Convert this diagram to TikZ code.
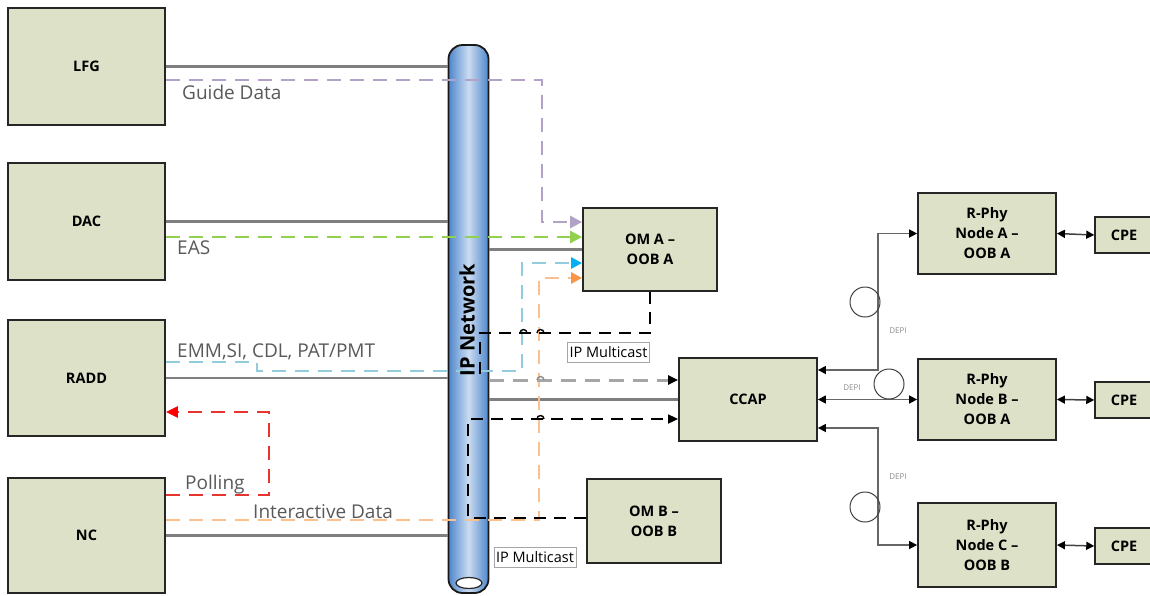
\documentclass[tikz,border=0pt]{standalone}
\usepackage{fontspec}
\setmainfont{Open Sans}
\usetikzlibrary{arrows.meta,calc}
\definecolor{boxfill}{HTML}{DDE1C8}
\definecolor{guidec}{HTML}{B3A2C7}
\definecolor{easc}{HTML}{92D050}
\definecolor{emmc}{HTML}{93CDDD}
\definecolor{emma}{HTML}{00B0F0}
\definecolor{interc}{HTML}{FAC090}
\definecolor{intera}{HTML}{F79646}
\definecolor{pollc}{HTML}{E8342F}
\definecolor{linkc}{HTML}{7F7F7F}
\definecolor{mgray}{HTML}{A6A6A6}
\definecolor{tubeA}{HTML}{4F86CB}
\definecolor{tubeB}{HTML}{CADCF1}
\definecolor{lblc}{HTML}{595959}
\begin{document}
\begin{tikzpicture}[x=1pt,y=-1pt,
  box/.style={draw=black!85, line width=1.8pt, fill=boxfill, align=center,
    font=\fontsize{14.5}{20}\selectfont\bfseries, inner sep=0pt},
  cpebox/.style={box, line width=1.5pt, minimum width=58pt, minimum height=36pt},
  tube/.style={draw=black!90, line width=1.8pt, rounded corners=14pt,
    left color=tubeA, right color=tubeA, middle color=tubeB,
    minimum width=40pt, minimum height=548pt, inner sep=0pt},
  link/.style={draw=linkc, line width=2.6pt},
  dsh/.style={line width=2.7pt, dash pattern=on 14pt off 9pt},
  bigtip/.style={-{Triangle[length=12pt,width=12pt,fill=#1]}},
  guide/.style={dsh, draw=guidec, bigtip=guidec},
  eas/.style={dsh, draw=easc, bigtip=easc},
  emm/.style={dsh, draw=emmc, -{Triangle[length=11pt,width=11pt,color=emma]}},
  inter/.style={dsh, draw=interc, -{Triangle[length=11pt,width=11pt,color=intera]}},
  poll/.style={dsh, draw=pollc, -{Triangle[length=12pt,width=11pt,color=red]}},
  mcast/.style={draw=black, line width=1.7pt, dash pattern=on 12pt off 8pt},
  mtip/.style={-{Triangle[length=10pt,width=9pt,color=black]}},
  graydash/.style={draw=mgray, line width=3pt, dash pattern=on 15pt off 9pt},
  depi/.style={draw=black!60, line width=1.5pt, {Triangle[length=8pt,width=8pt,color=black]}-{Triangle[length=8pt,width=8pt,color=black]}},
  cpelink/.style={draw=black!75, line width=1.5pt, {Triangle[length=8pt,width=8pt,color=black]}-{Triangle[length=8pt,width=8pt,color=black]}},
  ring/.style={circle, draw=black!75, line width=1pt, minimum size=30pt, inner sep=0pt},
  lbl/.style={text=lblc, font=\fontsize{19}{22}\selectfont, inner sep=0pt, anchor=west},
  depil/.style={text=black!45, font=\fontsize{8}{9}\selectfont, inner sep=0pt},
  ipm/.style={draw=black!35, fill=white, line width=0.8pt, font=\fontsize{14.5}{16}\selectfont,
    inner sep=2pt, minimum height=20pt},
  hop/.style={line width=1.4pt}
]
\useasboundingbox (0,0) rectangle (1150,595);

% ---------- boxes ----------
\node[box, minimum width=157pt, minimum height=117pt] (lfg)  at (86.5,66.5)  {LFG};
\node[box, minimum width=157pt, minimum height=117pt] (dac)  at (86.5,221.5) {DAC};
\node[box, minimum width=157pt, minimum height=116pt] (radd) at (86.5,378)   {RADD};
\node[box, minimum width=157pt, minimum height=115pt] (nc)   at (86.5,535.5) {NC};

\node[box, minimum width=134pt, minimum height=83pt] (oma)  at (650,249.5) {OM A –\\OOB A};
\node[box, minimum width=134pt, minimum height=84pt] (omb)  at (654,521)   {OM B –\\OOB B};
\node[box, minimum width=138pt, minimum height=83pt] (ccap) at (748,399.5) {CCAP};

\node[box, minimum width=138pt, minimum height=81pt] (rpa) at (987,233.5) {R-Phy\\Node A –\\OOB A};
\node[box, minimum width=138pt, minimum height=81pt] (rpb) at (987,399.5) {R-Phy\\Node B –\\OOB A};
\node[box, minimum width=138pt, minimum height=84pt] (rpc) at (987,545)   {R-Phy\\Node C –\\OOB B};

\node[cpebox] (cpea) at (1124,235) {CPE};
\node[cpebox] (cpeb) at (1124,400) {CPE};
\node[cpebox] (cpec) at (1124,546) {CPE};

% ---------- IP network tube ----------
\node[tube] (net) at (468.5,319) {};
\draw[draw=black!85, fill=white, line width=1.2pt] (469,583) ellipse [x radius=13pt, y radius=5.5pt];

% ---------- solid links ----------
\draw[link] (lfg.east)  -- (lfg.east -| net.west);
\draw[link] (dac.east)  -- (dac.east -| net.west);
\draw[link] (radd.east) -- (radd.east -| net.west);
\draw[link] (nc.east)   -- (nc.east -| net.west);
\draw[link] (net.east |- oma.west)  -- (oma.west);
\draw[link] (net.east |- ccap.west) -- (ccap.west);

% ---------- coloured data flows ----------
\draw[guide] ($(lfg.east)+(0,13.5)$) -| ($(oma.west)+(-40,-27.5)$) -- ($(oma.west)+(0,-27.5)$);
\draw[eas] ($(dac.east)+(0,15.5)$) -- ($(oma.west)+(0,-12.5)$);
\draw[emm] ($(radd.east)+(0,-16)$) -- ++(91,0) -- ++(0,9) -| ($(oma.west)+(-60,13.5)$) -- ($(oma.west)+(0,13.5)$);
\draw[inter] ($(nc.east)+(0,-15.5)$) -| ($(oma.west)+(-43,28.5)$) -- ($(oma.west)+(0,28.5)$);
\draw[poll] ($(nc.east)+(0,-40.5)$) -- ++(103,0) |- ($(radd.east)+(0,34)$);

% ---------- multicast paths ----------
\coordinate (t1) at (480,380);
\draw[mcast] (oma.south) |- (480,333) -- (t1);
\draw[graydash, mtip] (net.east |- t1) -- (ccap.west |- t1);
\draw[mcast, mtip] ($(omb.west)+(0,-3)$) -- (468,518) |- ($(ccap.west)+(0,19.5)$);

% hops
\draw[hop, black] (527,333) arc[start angle=0, end angle=180, radius=3.5pt];
\draw[hop, black] (544,333) arc[start angle=0, end angle=180, radius=3.5pt];
\draw[hop, black!45] (544,380) arc[start angle=0, end angle=180, radius=3.5pt];
\draw[hop, black] (544,419) arc[start angle=0, end angle=180, radius=3.5pt];

% ---------- DEPI ----------
\draw[depi] ($(ccap.east)+(0,-29.5)$) -| ($(rpa.west)+(-39,0)$) -- (rpa.west);
\draw[depi] (ccap.east) -- (rpb.west);
\draw[depi] ($(ccap.east)+(0,28.5)$) -| ($(rpc.west)+(-39,0)$) -- (rpc.west);
\node[ring] (r1) at (865,302) {};
\node[ring] (r2) at (889,384) {};
\node[ring] (r3) at (865,507) {};
\node[depil] (d1) at (898,331) {DEPI};
\node[depil] (d2) at (852,388) {DEPI};
\node[depil] (d3) at (898,477) {DEPI};

\draw[cpelink] (rpa.east) -- (cpea.west);
\draw[cpelink] (rpb.east) -- (cpeb.west);
\draw[cpelink] (rpc.east) -- (cpec.west);

% ---------- labels ----------
\node[lbl] (gd)  at (182,92)  {Guide Data};
\node[lbl] (eas) at (177,248) {EAS};
\node[lbl] (emml) at (177,352) {EMM,SI, CDL, PAT/PMT};
\node[lbl] (pol) at (185,485) {Polling};
\node[lbl] (int) at (253,512) {Interactive Data};
\node[ipm] (ipm1) at (608.5,352.5) {IP Multicast};
\node[ipm] (ipm2) at (535,557) {IP Multicast};
\node[rotate=90, font=\fontsize{20}{21}\selectfont\bfseries, inner sep=0pt] (netl) at (467,320) {IP Network};
\end{tikzpicture}
\end{document}
